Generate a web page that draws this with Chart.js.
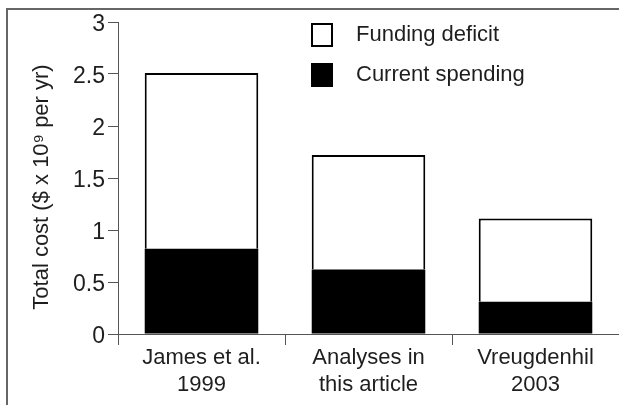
<!DOCTYPE html>
<html>
<head>
<meta charset="utf-8">
<script src="https://cdn.jsdelivr.net/npm/chart.js@4"></script>
<style>
    html, body { margin: 0; padding: 0; background: #fff; overflow: hidden; }
    #wrap { position: relative; width: 619px; height: 405px; }
    #frame {
        position: absolute; left: 6px; top: 8px; width: 700px; height: 500px;
        border: 2px solid #666; box-sizing: border-box;
    }
    #chart { position: absolute; left: 0; top: 0; }
</style>
</head>
<body>
<div id="wrap">
    <div id="frame"></div>
    <canvas id="chart" width="619" height="405"></canvas>
</div>
<script>
const categories = [["James et al.", "1999"], ["Analyses in", "this article"], ["Vreugdenhil", "2003"]];
const currentSpending = [0.82, 0.62, 0.31];
const fundingDeficit = [1.69, 1.1, 0.8];
const yTitle = "Total cost ($ x 10\u2079 per yr)";
const FONT = "Liberation Sans, Arial, sans-serif";
const INK = "#1e1e1e";

const legendPlugin = {
    id: "boxLegend",
    afterDraw(chart) {
        const ctx = chart.ctx;
        const rows = [chart.data.datasets[1], chart.data.datasets[0]];
        ctx.save();
        rows.forEach((ds, i) => {
            const y = 23 + i * 40;
            ctx.fillStyle = ds.backgroundColor;
            ctx.fillRect(311, y, 22, 24);
            if (ds.backgroundColor === "#ffffff") {
                ctx.strokeStyle = "#000";
                ctx.lineWidth = 2;
                ctx.strokeRect(312, y + 1, 20, 22);
            }
            ctx.fillStyle = INK;
            ctx.font = "22px " + FONT;
            ctx.textBaseline = "middle";
            ctx.fillText(ds.label, 356, y + 12);
        });
        // y axis title
        ctx.translate(48, 187);
        ctx.rotate(-Math.PI / 2);
        ctx.textAlign = "center";
        ctx.textBaseline = "alphabetic";
        ctx.fillText(yTitle, 0, 0);
        ctx.restore();
    },
};

new Chart(document.getElementById("chart"), {
    type: "bar",
    data: {
        labels: categories,
        datasets: [
            {
                label: "Current spending",
                data: currentSpending,
                backgroundColor: "#000000",
                borderWidth: 0,
            },
            {
                label: "Funding deficit",
                data: fundingDeficit,
                backgroundColor: "#ffffff",
                borderColor: "#000000",
                borderWidth: 2,
                borderSkipped: "bottom",
            },
        ],
    },
    options: {
        responsive: false,
        animation: false,
        layout: { padding: { top: 22, right: 0, bottom: 0, left: 0 } },
        datasets: { bar: { categoryPercentage: 1, barPercentage: 0.68 } },
        plugins: { legend: { display: false }, tooltip: { enabled: false } },
        scales: {
            x: {
                stacked: true,
                afterFit(scale) { scale.height = 71; },
                border: { color: "#555", width: 1 },
                grid: { offset: true, drawOnChartArea: false, drawTicks: true, tickLength: 11, color: "#555" },
                ticks: { color: INK, font: { family: FONT, size: 22 }, padding: 0, maxRotation: 0 },
            },
            y: {
                stacked: true,
                min: 0,
                max: 3,
                afterFit(scale) { scale.width = 118; },
                border: { color: "#555", width: 1 },
                grid: { drawOnChartArea: false, drawTicks: true, tickLength: 10, color: "#555" },
                ticks: {
                    stepSize: 0.5,
                    color: INK,
                    font: { family: FONT, size: 23 },
                    padding: 3,
                    labelOffset: 3,
                    callback: (v) => String(v),
                },
            },
        },
    },
    plugins: [legendPlugin],
});
</script>
</body>
</html>
